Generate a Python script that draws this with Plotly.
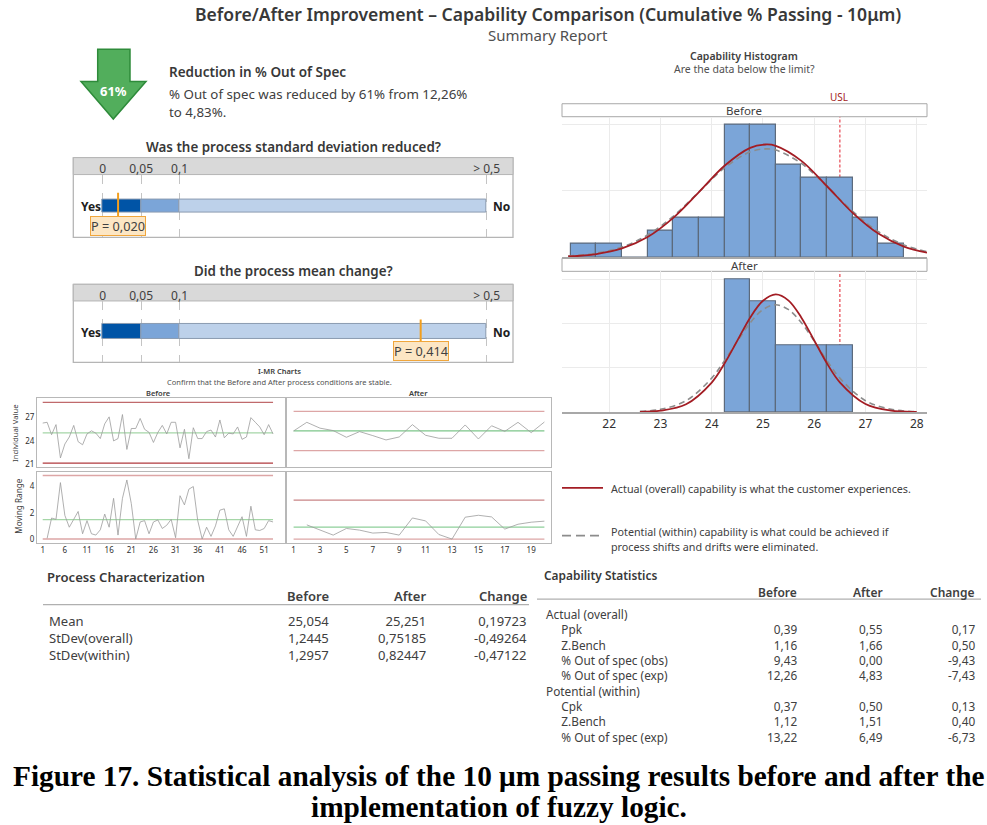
import plotly.graph_objects as go

W, H = 987, 825
FONT = "Noto Sans"
TXT = "#404040"

# ---------- data ----------
hist_edges_w = 0.5
hist_before_x = [21.5, 22, 22.5, 23, 23.5, 24, 24.5, 25, 25.5, 26, 26.5, 27, 27.5]
hist_before_n = [1, 1, 0, 2, 3, 3, 10, 10, 7, 6, 6, 3, 1]
hist_after_x = [24.5, 25, 25.5, 26, 26.5]
hist_after_n = [6, 5, 3, 3, 3]
USL = 26.5

curve_b_x = [21.2, 21.75, 22.25, 22.75, 23.25, 23.75, 24.25, 24.75, 25.05, 25.25, 25.75, 26.25, 26.75, 27.25, 27.75, 28.2]
curve_b_overall = [0.07, 0.25, 0.67, 1.53, 2.97, 4.9, 6.89, 8.24, 8.49, 8.39, 7.26, 5.35, 3.35, 1.79, 0.81, 0.35]
curve_b_within = [0.10, 0.32, 0.78, 1.68, 3.09, 4.92, 6.73, 7.94, 8.16, 8.07, 7.07, 5.33, 3.46, 1.94, 0.94, 0.43]
curve_a_x = [22.6, 23, 23.5, 24, 24.25, 24.5, 24.75, 25, 25.25, 25.5, 25.75, 26, 26.25, 26.5, 27, 27.5, 28]
curve_a_overall = [0.01, 0.06, 0.35, 1.33, 2.19, 3.22, 4.26, 5.02, 5.31, 5.03, 4.26, 3.23, 2.19, 1.34, 0.36, 0.06, 0.01]
curve_a_within = [0.03, 0.12, 0.51, 1.53, 2.32, 3.19, 4.02, 4.62, 4.84, 4.62, 4.03, 3.2, 2.32, 1.53, 0.51, 0.12, 0.02]

ind_before = [26.3, 26.4, 24.8, 26.1, 21.8, 23.6, 24.5, 26.0, 23.9, 23.5, 24.9, 25.3, 25.0, 24.3, 26.2, 27.1, 24.0, 24.3,
              27.4, 22.9, 25.6, 25.6, 26.9, 25.5, 25.1, 23.8, 25.1, 26.0, 24.9, 26.4, 26.4, 23.1, 25.5, 21.7, 25.7, 24.3,
              24.3, 25.2, 25.4, 24.5, 26.7, 24.4, 25.0, 24.9, 25.8, 24.2, 24.5, 27.0, 26.4, 25.8, 24.8, 26.1, 24.9]
mr_before = [None, 0.05, 1.6, 1.5, 4.3, 1.8, 0.9, 1.5, 2.1, 0.4, 1.4, 0.4, 0.3, 0.7, 1.9, 0.9, 3.1, 0.3, 3.1, 4.5, 2.7, 0.0,
             1.3, 1.4, 0.4, 1.3, 1.45, 0.8, 1.05, 1.5, 0.1, 3.3, 2.6, 3.8, 4.0, 1.4, 0.0, 0.9, 0.2, 1.0, 2.2, 2.3, 0.7, 0.2,
             0.9, 1.7, 0.2, 2.5, 0.7, 0.65, 0.8, 1.4, 1.3]
ind_after = [25.25, 26.33, 25.6, 25.3, 24.46, 25.17, 24.67, 24.13, 24.5, 26.04, 24.71, 24.34, 24.34, 26.0, 24.25, 25.9,
             25.2, 26.33, 25.04, 26.37]
mr_after = [None, 1.11, 0.72, 0.31, 0.83, 0.70, 0.47, 0.52, 0.31, 1.65, 1.42, 0.36, 0.0, 1.71, 1.86, 1.73, 0.78, 1.16, 1.32, 1.40]
limits_ind_before = [28.97, 25.03, 21.13]
limits_mr_before = [4.84, 1.47, 0.0]
limits_ind_after = [27.7, 25.25, 22.8]
limits_mr_after = [3.04, 0.93, 0.0]

p_edges = [0, 0.05, 0.1, 0.5]
p_colors = ["#0054A6", "#7BA5D8", "#BDD1EA"]
p_ticktext = ["0", "0,05", "0,1", "> 0,5"]
p_values = [0.020, 0.414]
p_labels = ["P = 0,020", "P = 0,414"]

pc_cols = ["Before", "After", "Change"]
pc_rows = ["Mean", "StDev(overall)", "StDev(within)"]
pc_before = ["25,054", "1,2445", "1,2957"]
pc_after = ["25,251", "0,75185", "0,82447"]
pc_change = ["0,19723", "-0,49264", "-0,47122"]

cs_rows = ["Actual (overall)", "Ppk", "Z.Bench", "% Out of spec (obs)", "% Out of spec (exp)", "Potential (within)", "Cpk", "Z.Bench", "% Out of spec (exp)"]
cs_indented = [False, True, True, True, True, False, True, True, True]
cs_before = ["", "0,39", "1,16", "9,43", "12,26", "", "0,37", "1,12", "13,22"]
cs_after = ["", "0,55", "1,66", "0,00", "4,83", "", "0,50", "1,51", "6,49"]
cs_change = ["", "0,17", "0,50", "-9,43", "-7,43", "", "0,13", "0,40", "-6,73"]

# ---------- helpers ----------
fig = go.Figure()
layout = {}
annots = []
shapes = []

def px(x): return x / W
def py(y): return 1 - y / H

def txt(x, y, s, size=12, color=TXT, anchor="left", bold=False, family=FONT, angle=0, weight=None, **kw):
    dx = {"left": -1, "right": 1, "center": 0}[anchor]
    if angle:
        dx = 0
    kw.setdefault("borderpad", 0)
    font = dict(size=size, color=color, family=family)
    if weight:
        font["weight"] = weight
    annots.append(dict(x=px(x + dx), y=py(y + 1), xref="paper", yref="paper", text=f"<b>{s}</b>" if bold else s,
                       showarrow=False, xanchor=anchor, yanchor="middle", textangle=angle, font=font, **kw))

def column(x, y, items, size, anchor):
    # one multi-line text per table column; empty cells keep their row
    cells = [c if c else "&nbsp;" for c in items]
    txt(x, y, "<br>".join(cells), size, anchor=anchor, align=anchor)

def rect(x0, y0, x1, y1, fill=None, line="#A8A8A8", width=1, layer="below"):
    shapes.append(dict(type="rect", xref="paper", yref="paper", x0=px(x0), x1=px(x1), y0=py(y0), y1=py(y1),
                       fillcolor=fill or "rgba(0,0,0,0)", line=dict(color=line, width=width), layer=layer))

def hline(x0, x1, y, color, width=1, dash="solid"):
    shapes.append(dict(type="line", xref="paper", yref="paper", x0=px(x0), x1=px(x1), y0=py(y), y1=py(y),
                       line=dict(color=color, width=width, dash=dash)))

def axes(i, x0, x1, y0, y1, xr, yr, xa=None, ya=None):
    xd = dict(domain=[px(x0), px(x1)], range=xr, anchor=f"y{i}", showgrid=False, zeroline=False,
              showticklabels=False, ticks="")
    yd = dict(domain=[py(y1), py(y0)], range=yr, anchor=f"x{i}", showgrid=False, zeroline=False,
              showticklabels=False, ticks="")
    xd.update(xa or {})
    yd.update(ya or {})
    layout[f"xaxis{i}"] = xd
    layout[f"yaxis{i}"] = yd
    return f"x{i}", f"y{i}"

# ---------- histograms ----------
hist_x_range = [21.08, 28.2]
grid = "#EBEBEB"
def hist(i, y0, y1, yr, xs, ns, cx, c_o, c_w, yticks, show_x):
    xa = dict(showgrid=True, gridcolor=grid, tickvals=[22, 23, 24, 25, 26, 27, 28], showline=True,
              linecolor="#A8A8A8", linewidth=1.5)
    if show_x:
        xa.update(showticklabels=True, tickfont=dict(size=12, color="#303030", family=FONT), ticklen=0)
    ya = dict(showgrid=True, gridcolor=grid, tickvals=yticks)
    xn, yn = axes(i, 562, 927, y0, y1, hist_x_range, yr, xa, ya)
    shapes.append(dict(type="line", xref=xn, yref=yn, x0=USL, x1=USL, y0=0, y1=yr[1], layer="below",
                       line=dict(color="#EC6A72", width=1.5, dash="3px,2px")))
    fig.add_trace(go.Bar(x=xs, y=ns, width=hist_edges_w, xaxis=xn, yaxis=yn,
                         marker=dict(color="#7BA5D8", line=dict(color="#5C6A7C", width=1.2))))
    fig.add_trace(go.Scatter(x=cx, y=c_w, mode="lines", xaxis=xn, yaxis=yn,
                             line=dict(color="#8C8C8C", width=1.6, dash="6px,4px", shape="spline")))
    fig.add_trace(go.Scatter(x=cx, y=c_o, mode="lines", xaxis=xn, yaxis=yn,
                             line=dict(color="#A31D24", width=1.8, shape="spline")))

hist(1, 117, 258, [0, 10.58], hist_before_x, hist_before_n, curve_b_x, curve_b_overall, curve_b_within, [0, 5, 10], False)
hist(2, 272, 413, [0, 6.35], hist_after_x, hist_after_n, curve_a_x, curve_a_overall, curve_a_within, [0, 2, 4, 6], True)
rect(562, 104, 927, 117, fill="white")
rect(562, 259, 927, 272, fill="white")
txt(744, 110, "Before", 11.5, anchor="center")
txt(744, 265, "After", 11.5, anchor="center")
txt(839, 96.5, "USL", 10, color="#A31D24", anchor="center")
txt(744, 55, "Capability Histogram", 10.5, anchor="center", weight=600)
txt(744, 68, "Are the data below the limit?", 10.5, anchor="center", color="#505050")

# ---------- I-MR ----------
frame = dict(showline=True, mirror=True, linecolor="#B8B8B8", linewidth=1.2)
tickf = dict(size=8, color="#303030", family=FONT)
xb = list(range(1, 54))
xa_ = list(range(1, 21))
def imr(i, box, xr, yr, xs, ys, lim, cols, xticks=None, yticks=None):
    xd = dict(frame)
    yd = dict(frame)
    if xticks:
        xd.update(showticklabels=True, tickvals=xticks, tickfont=tickf, ticklen=0)
    if yticks:
        yd.update(showticklabels=True, tickvals=yticks, tickfont=tickf, ticklen=0)
    xn, yn = axes(i, box[0], box[1], box[2], box[3], xr, yr, xd, yd)
    for v, c, w in zip(lim, cols, [1.3, 1.3, 1.3]):
        fig.add_trace(go.Scatter(x=[xs[0], xs[-1]], y=[v, v], mode="lines", xaxis=xn, yaxis=yn, line=dict(color=c, width=w)))
    fig.add_trace(go.Scatter(x=xs, y=ys, mode="lines", xaxis=xn, yaxis=yn, connectgaps=False,
                             line=dict(color="#9C9C9C", width=0.8)))

RD, RL, GR = "#B03A3E", "#DDA6A6", "#A5D6A7"
imr(3, (37, 285, 399, 468), [-0.29, 55.7], [20.65, 29.53], xb, ind_before, limits_ind_before, ["#C06A6C", GR, RD], yticks=[21, 24, 27])
imr(4, (37, 285, 473, 544), [-0.29, 55.7], [-0.28, 5.12], xb, mr_before, limits_mr_before, [RL, GR, RL],
    xticks=list(range(1, 52, 5)), yticks=[0, 2, 4])
imr(5, (287, 551, 399, 468), [0.5, 20.5], [20.77, 29.36], xa_, ind_after, limits_ind_after, [RL, "#7CC68A", RL])
imr(6, (287, 551, 473, 544), [0.5, 20.5], [-0.28, 5.25], xa_, mr_after, limits_mr_after, ["#C98486", "#8ECF9A", RL],
    xticks=list(range(1, 20, 2)))
txt(15, 433, "Individual Value", 7.7, anchor="center", angle=-90)
txt(19, 507, "Moving Range", 8.2, anchor="center", angle=-90)
txt(279, 371, "I-MR Charts", 7.5, anchor="center", weight=600)
txt(279, 382, "Confirm that the Before and After process conditions are stable.", 7.5, anchor="center", color="#505050")
txt(158, 392.5, "Before", 7.5, anchor="center", weight=600)
txt(418, 392.5, "After", 7.5, anchor="center", weight=600)

# ---------- P-value panels ----------
def pbar(i, top, hdr, bot, p, label, title, title_y, ly, lx, bar_w, p_span):
    edges = p_edges
    xa = dict(side="top", showticklabels=True, tickvals=edges, ticktext=p_ticktext, ticks="", showgrid=True,
              gridcolor="#C4C4C4", griddash="dash", tickfont=dict(size=12, color=TXT, family=FONT), ticklabelstandoff=-2)
    xn, yn = axes(i, 73.3, 513, hdr, bot, [-0.0383, 0.5342], [0, 1], xa)
    rect(73.3, top, 513, bot, fill="white", line="#B5B5B5", width=1.3)
    rect(73.3, top, 513, hdr, fill="#D9D9D9", line="#B5B5B5", width=1)
    widths = [edges[k + 1] - edges[k] for k in range(3)]
    fig.add_trace(go.Bar(x=widths, base=edges[:3], y=[0.5] * 3, orientation="h", width=bar_w, xaxis=xn, yaxis=yn,
                         marker=dict(color=p_colors, line=dict(color="#8A9BB0", width=1))))
    fig.add_trace(go.Scatter(x=[p, p], y=p_span, mode="lines", xaxis=xn, yaxis=yn,
                             line=dict(color="#F29F1F", width=2)))
    mid = (hdr + bot) / 2
    txt(100.7, mid, "Yes", 12, color="#202020", anchor="right", bold=True)
    txt(492.7, mid, "No", 12, color="#202020", bold=True)
    txt(lx, ly, label, 12.7, anchor="center", bgcolor="#FCE6C4", bordercolor="#F0A63C", borderwidth=1, borderpad=0)
    txt(293, title_y, title, 13.4, anchor="center", color="#383838", weight=600)

pbar(7, 158, 175, 238, p_values[0], p_labels[0], "Was the process standard deviation reduced?", 146, 226, 117.5, 0.22, [0.29, 0.71])
pbar(8, 285, 301.7, 363.3, p_values[1], p_labels[1], "Did the process mean change?", 271, 351, 420.5, 0.245, [0.29, 0.70])

# ---------- arrow & text ----------
pts = [(97.7, 49.3), (130, 49.3), (130, 81.7), (146, 81.7), (113.3, 119.3), (81, 81.7), (97.7, 81.7)]
path = "M " + " L ".join(f"{px(a):.5f},{py(b):.5f}" for a, b in pts) + " Z"
shapes.append(dict(type="path", xref="paper", yref="paper", path=path, fillcolor="#52AE5C", line=dict(color="#2E8B3A", width=1.5)))
txt(113.3, 90.7, "61%", 13, color="white", anchor="center", bold=True)
txt(169, 71, "Reduction in % Out of Spec", 13.5, color="#383838", weight=600)
txt(169, 93.5, "% Out of spec was reduced by 61% from 12,26%", 13.3)
txt(169, 111, "to 4,83%.", 13.3)
txt(548, 13.5, "Before/After Improvement – Capability Comparison (Cumulative % Passing - 10μm)", 17.55, color="#383838", anchor="center", weight=600)
txt(548, 34, "Summary Report", 15, color="#505050", anchor="center")

# legend
hline(562, 603, 489, "#A31D24", 1.8)
hline(562, 603, 537, "#8C8C8C", 1.8, "9px,5px")
txt(611, 489.5, "Actual (overall) capability is what the customer experiences.", 10.75)
txt(611, 532, "Potential (within) capability is what could be achieved if", 10.75)
txt(611, 547, "process shifts and drifts were eliminated.", 10.75)

# tables
txt(47.3, 577, "Process Characterization", 13.1, color="#383838", weight=600)
for x, c in zip([329, 426, 526.7], pc_cols):
    txt(x, 596.5, c, 13, anchor="right", weight=600)
hline(43, 529, 606, "#B0B0B0", 1.3)
column(49.3, 638.5, pc_rows, 13.05, "left")
column(329, 638.5, pc_before, 13.05, "right")
column(426, 638.5, pc_after, 13.05, "right")
column(526.7, 638.5, pc_change, 13.05, "right")

txt(544.3, 575.5, "Capability Statistics", 11.9, color="#383838", weight=600)
for x, c in zip([796.7, 883.3, 975], pc_cols):
    txt(x, 592.5, c, 12, anchor="right", weight=600)
hline(537, 981, 600.5, "#B0B0B0", 1.3)
cs_labels = [("&nbsp;" * 5 + r) if ind else r for r, ind in zip(cs_rows, cs_indented)]
column(545.7, 676.5, cs_labels, 11.8, "left")
column(796.7, 676.5, cs_before, 11.8, "right")
column(883.3, 676.5, cs_after, 11.8, "right")
column(975, 676.5, cs_change, 11.8, "right")

# caption
cap = "Liberation Serif"
txt(498.5, 776.5, "Figure 17. Statistical analysis of the 10 μm passing results before and after the", 29.3, color="black", anchor="center", bold=True, family=cap)
txt(498.5, 807.5, "implementation of fuzzy logic.", 29.3, color="black", anchor="center", bold=True, family=cap)

fig.update_layout(width=W, height=H, margin=dict(l=0, r=0, t=0, b=0), autosize=False, showlegend=False,
                  paper_bgcolor="white", plot_bgcolor="rgba(0,0,0,0)", bargap=0, barmode="overlay",
                  annotations=annots, shapes=shapes, **layout)
fig.write_html("out.html", post_script="document.body.style.margin='0';", config={"displayModeBar": False})
